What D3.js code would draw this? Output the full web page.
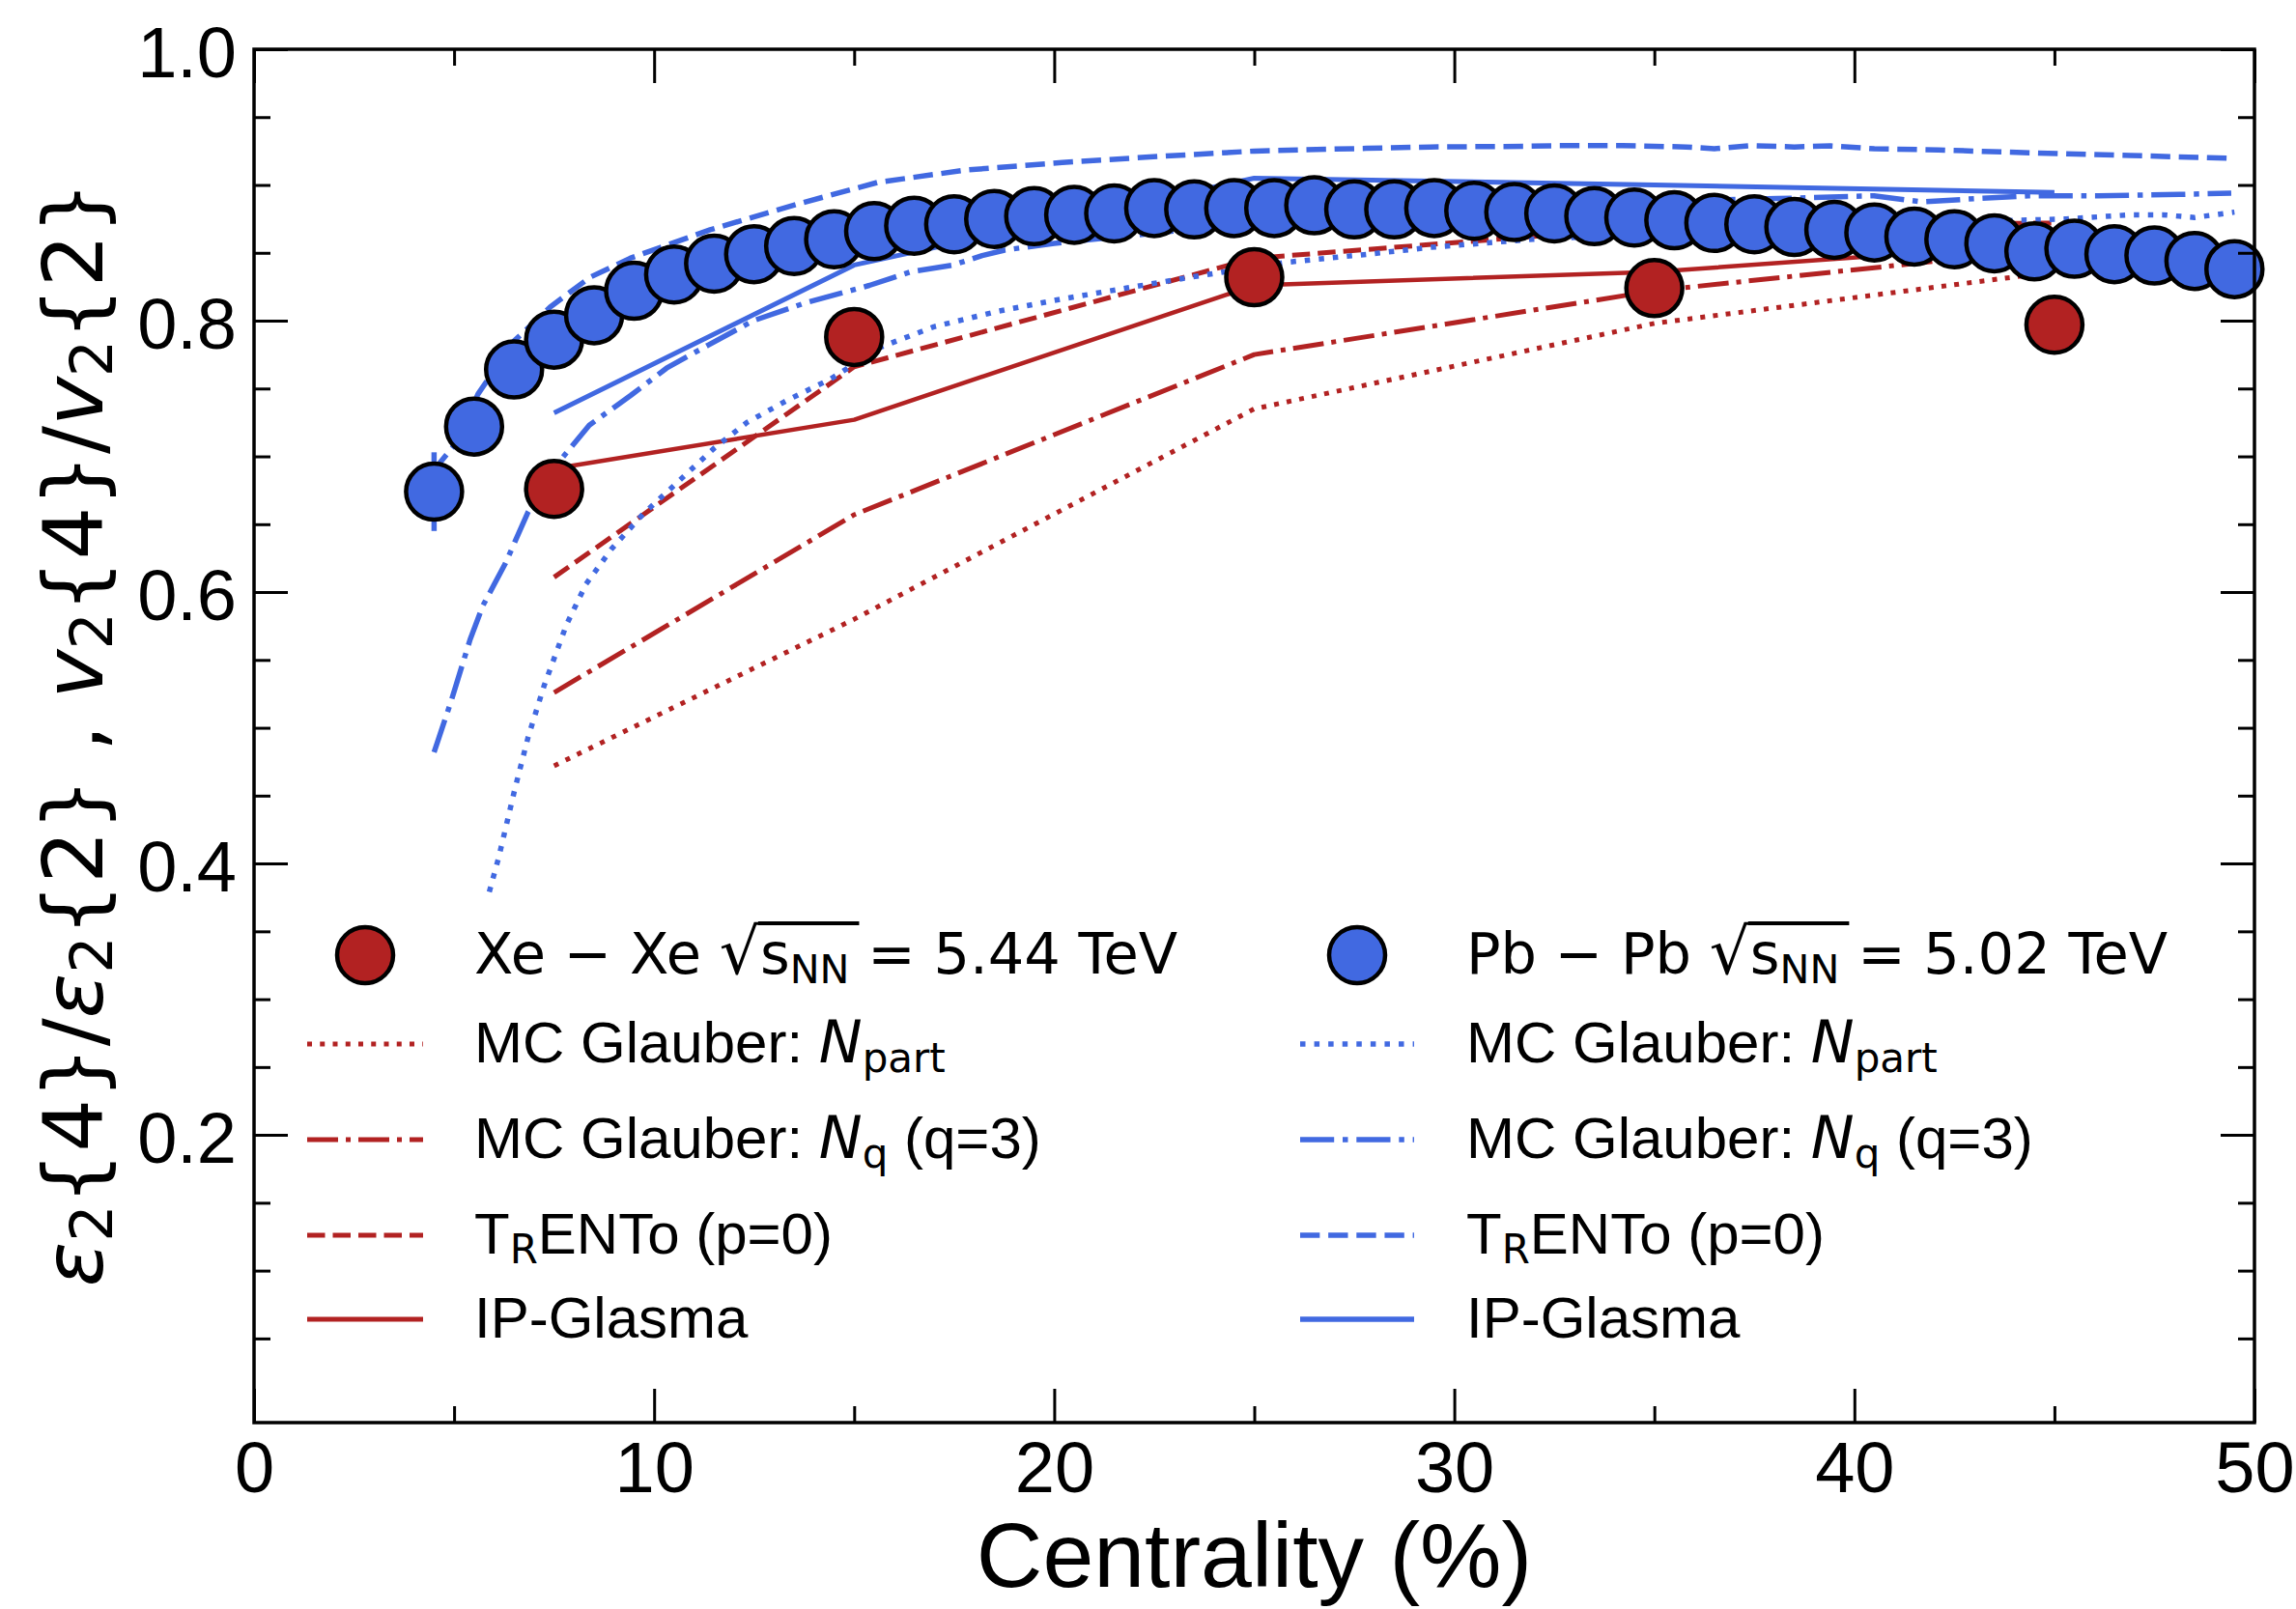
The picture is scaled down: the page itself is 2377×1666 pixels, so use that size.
<!DOCTYPE html>
<html>
<head>
<meta charset="utf-8">
<script src="https://cdn.jsdelivr.net/npm/d3@7"></script>
<style>
  html, body { margin: 0; padding: 0; background: #ffffff; }
  svg { display: block; }
</style>
</head>
<body>
<svg id="chart" width="2377" height="1666"></svg>
<script>
// ---------------- data ----------------
// Pb-Pb measurement, v2{4}/v2{2}
const pbCentrality = [4.5, 5.5, 6.5, 7.5, 8.5, 9.5, 10.5, 11.5, 12.5, 13.5, 14.5, 15.5,
  16.5, 17.5, 18.5, 19.5, 20.5, 21.5, 22.5, 23.5, 24.5, 25.5, 26.5, 27.5, 28.5, 29.5,
  30.5, 31.5, 32.5, 33.5, 34.5, 35.5, 36.5, 37.5, 38.5, 39.5, 40.5, 41.5, 42.5, 43.5,
  44.5, 45.5, 46.5, 47.5, 48.5, 49.5];
const pbRatio = [0.674, 0.722, 0.764, 0.786, 0.804, 0.822, 0.834, 0.842, 0.849, 0.855,
  0.860, 0.866, 0.870, 0.871, 0.875, 0.877, 0.878, 0.879, 0.883, 0.882, 0.883, 0.883,
  0.885, 0.882, 0.882, 0.883, 0.881, 0.880, 0.879, 0.877, 0.876, 0.874, 0.872, 0.871,
  0.869, 0.867, 0.865, 0.862, 0.860, 0.857, 0.851, 0.853, 0.849, 0.848, 0.844, 0.838];
const pbError = [0.029, 0.016, 0.012, 0.010, 0.009, 0.008, 0.007, 0.007, 0.006, 0.006,
  0.006, 0.006, 0.006, 0.006, 0.006, 0.006, 0.006, 0.006, 0.006, 0.006, 0.006, 0.006,
  0.006, 0.006, 0.006, 0.006, 0.006, 0.006, 0.006, 0.006, 0.006, 0.006, 0.006, 0.007,
  0.007, 0.007, 0.007, 0.007, 0.008, 0.008, 0.008, 0.009, 0.009, 0.010, 0.010, 0.011];

// Xe-Xe measurement
const xeCentrality = [7.5, 15, 25, 35, 45];
const xeRatio = [0.676, 0.788, 0.832, 0.824, 0.797];

// Xe-Xe model curves (eps2{4}/eps2{2})
const xeModelCentrality = [7.5, 15, 25, 35, 45];
const xeGlauberNpart = [0.472, 0.580, 0.735, 0.798, 0.836];
const xeGlauberNq    = [0.526, 0.657, 0.775, 0.822, 0.853];
const xeTrento       = [0.611, 0.766, 0.846, 0.869, 0.872];
const xeIPGlasma     = [0.691, 0.727, 0.826, 0.836, 0.857];

// Pb-Pb model curves
const pbGlauberNpartX = [5.88, 6.12, 6.52, 6.85, 7.25, 7.81, 8.3, 8.94, 9.74, 10.55, 11.5,
  12.32, 13.37, 14.41, 15.0, 15.62, 16.99, 18.6, 20.2, 21.8, 23.4, 25.8, 27.85, 29.4,
  31.96, 35, 40, 44.1, 45.3, 46.9, 47.7, 48.5, 49.5];
const pbGlauberNpartY = [0.379, 0.405, 0.455, 0.493, 0.531, 0.576, 0.606, 0.632, 0.658,
  0.680, 0.706, 0.725, 0.742, 0.757, 0.768, 0.780, 0.7955, 0.807, 0.816, 0.824, 0.832,
  0.843, 0.849, 0.854, 0.860, 0.864, 0.870, 0.874, 0.875, 0.878, 0.878, 0.876, 0.880];

const pbGlauberNqX = [4.5, 4.92, 5.4, 5.72, 6.28, 6.85, 7.65, 8.38, 9.42, 10.31, 11.35,
  12.48, 13.77, 15.38, 16.42, 17.47, 18.2, 18.76, 20, 25, 30, 35, 38.07, 40.49, 41.7,
  43.06, 44.35, 46.1, 48.13, 49.42];
const pbGlauberNqY = [0.482, 0.519, 0.565, 0.590, 0.621, 0.659, 0.697, 0.723, 0.745,
  0.765, 0.782, 0.800, 0.813, 0.826, 0.836, 0.841, 0.848, 0.852, 0.857, 0.872, 0.882,
  0.888, 0.890, 0.892, 0.8875, 0.890, 0.892, 0.892, 0.893, 0.894];

const pbTrentoX = [4.5, 5.0, 5.6, 6.5, 7.4, 8.4, 9.4, 11.4, 13.6, 15.6, 17.8, 20.2, 22.6,
  25.0, 27.8, 29.4, 31.8, 32.6, 34.2, 35.8, 36.5, 37.4, 38.5, 39.4, 40.5, 42.1, 44.5,
  46.9, 49.5];
const pbTrentoY = [0.690, 0.708, 0.746, 0.785, 0.810, 0.832, 0.846, 0.867, 0.886, 0.902,
  0.911, 0.9165, 0.921, 0.925, 0.927, 0.928, 0.9285, 0.929, 0.929, 0.928, 0.9267, 0.929,
  0.928, 0.9288, 0.9267, 0.9258, 0.9236, 0.9217, 0.9196];

const pbIPGlasmaX = [7.5, 15, 25, 35, 45];
const pbIPGlasmaY = [0.732, 0.841, 0.905, 0.900, 0.8945];

// axis ticks
const xMajorTicks = [0, 10, 20, 30, 40, 50];
const xMinorTicks = [5, 15, 25, 35, 45];
const yMajorTicks = [0.2, 0.4, 0.6, 0.8, 1.0];
const yMinorTicks = [0.05, 0.1, 0.15, 0.25, 0.3, 0.35, 0.45, 0.5, 0.55, 0.65, 0.7, 0.75,
  0.85, 0.9, 0.95];

// ---------------- setup ----------------
const RED = "#b22222";
const BLUE = "#4169e1";
const sansFont = "'Liberation Sans', Arial, Helvetica, sans-serif";
const mathFont = "'DejaVu Sans', sans-serif";

const svg = d3.select("#chart");
const plot = { left: 263, right: 2334, top: 51, bottom: 1473 };

const x = d3.scaleLinear().domain([0, 50]).range([plot.left, plot.right]);
const y = d3.scaleLinear().domain([-0.012, 1.0]).range([plot.bottom, plot.top]);

svg.append("rect").attr("width", 2377).attr("height", 1666).attr("fill", "#fff");

svg.append("defs").append("clipPath").attr("id", "plot-clip")
  .append("rect")
  .attr("x", plot.left).attr("y", plot.top)
  .attr("width", plot.right - plot.left).attr("height", plot.bottom - plot.top);

// line styles (matplotlib-like dash patterns scaled by width)
const styles = {
  dotted:  lw => [1, 1.65].map(v => v * lw).join(","),
  dashed:  lw => [3.7, 1.6].map(v => v * lw).join(","),
  dashdot: lw => [6.4, 1.6, 1, 1.6].map(v => v * lw).join(","),
  solid:   lw => null
};

const lineGen = d3.line().x(d => x(d[0])).y(d => y(d[1]));

const curves = [
  { xs: xeModelCentrality, ys: xeGlauberNpart, color: RED, style: "dotted", lw: 5 },
  { xs: xeModelCentrality, ys: xeGlauberNq, color: RED, style: "dashdot", lw: 5 },
  { xs: xeModelCentrality, ys: xeTrento, color: RED, style: "dashed", lw: 5 },
  { xs: xeModelCentrality, ys: xeIPGlasma, color: RED, style: "solid", lw: 4.5 },
  { xs: pbGlauberNpartX, ys: pbGlauberNpartY, color: BLUE, style: "dotted", lw: 5.5 },
  { xs: pbGlauberNqX, ys: pbGlauberNqY, color: BLUE, style: "dashdot", lw: 5.5 },
  { xs: pbTrentoX, ys: pbTrentoY, color: BLUE, style: "dashed", lw: 5.5 },
  { xs: pbIPGlasmaX, ys: pbIPGlasmaY, color: BLUE, style: "solid", lw: 5 }
];

const curveLayer = svg.append("g").attr("clip-path", "url(#plot-clip)");
curves.forEach(c => {
  curveLayer.append("path")
    .datum(c.xs.map((v, i) => [v, c.ys[i]]))
    .attr("d", lineGen)
    .attr("fill", "none")
    .attr("stroke", c.color)
    .attr("stroke-width", c.lw)
    .attr("stroke-dasharray", styles[c.style](c.lw))
    .attr("stroke-linejoin", "round");
});

// Pb-Pb error bars and markers
const markerR = 29;
const markerStroke = 4.5;
const pbPoints = pbCentrality.map((c, i) => ({ c, v: pbRatio[i], e: pbError[i] }));
const dataLayer = svg.append("g");
dataLayer.selectAll("line.err").data(pbPoints).join("line")
  .attr("class", "err")
  .attr("x1", d => x(d.c)).attr("x2", d => x(d.c))
  .attr("y1", d => y(d.v - d.e)).attr("y2", d => y(d.v + d.e))
  .attr("stroke", BLUE).attr("stroke-width", 5.5);
dataLayer.selectAll("circle.pb").data(pbPoints).join("circle")
  .attr("class", "pb")
  .attr("cx", d => x(d.c)).attr("cy", d => y(d.v)).attr("r", markerR)
  .attr("fill", BLUE).attr("stroke", "#000").attr("stroke-width", markerStroke);

// Xe-Xe markers
const xePoints = xeCentrality.map((c, i) => ({ c, v: xeRatio[i] }));
dataLayer.selectAll("circle.xe").data(xePoints).join("circle")
  .attr("class", "xe")
  .attr("cx", d => x(d.c)).attr("cy", d => y(d.v)).attr("r", markerR)
  .attr("fill", RED).attr("stroke", "#000").attr("stroke-width", markerStroke);

// ---------------- axes ----------------
function styleAxis(g) {
  g.select(".domain").remove();
  g.selectAll(".tick line").attr("stroke", "#000").attr("stroke-width", 3);
  g.selectAll(".tick text")
    .attr("font-family", sansFont).attr("font-size", 74).attr("fill", "#000");
}
const axes = svg.append("g");
axes.append("g").attr("transform", `translate(0,${plot.bottom})`)
  .call(d3.axisBottom(x).tickValues(xMajorTicks).tickSize(-35).tickPadding(19)
    .tickFormat(d3.format("d")))
  .call(styleAxis);
axes.append("g").attr("transform", `translate(0,${plot.bottom})`)
  .call(d3.axisBottom(x).tickValues(xMinorTicks).tickSize(-17).tickFormat(""))
  .call(styleAxis);
axes.append("g").attr("transform", `translate(0,${plot.top})`)
  .call(d3.axisTop(x).tickValues(xMajorTicks).tickSize(-35).tickFormat(""))
  .call(styleAxis);
axes.append("g").attr("transform", `translate(0,${plot.top})`)
  .call(d3.axisTop(x).tickValues(xMinorTicks).tickSize(-17).tickFormat(""))
  .call(styleAxis);
axes.append("g").attr("transform", `translate(${plot.left},0)`)
  .call(d3.axisLeft(y).tickValues(yMajorTicks).tickSize(-35).tickPadding(18)
    .tickFormat(d3.format(".1f")))
  .call(styleAxis)
  .call(g => g.selectAll(".tick text").attr("dy", "0.39em"));
axes.append("g").attr("transform", `translate(${plot.left},0)`)
  .call(d3.axisLeft(y).tickValues(yMinorTicks).tickSize(-17).tickFormat(""))
  .call(styleAxis);
axes.append("g").attr("transform", `translate(${plot.right},0)`)
  .call(d3.axisRight(y).tickValues(yMajorTicks).tickSize(-35).tickFormat(""))
  .call(styleAxis);
axes.append("g").attr("transform", `translate(${plot.right},0)`)
  .call(d3.axisRight(y).tickValues(yMinorTicks).tickSize(-17).tickFormat(""))
  .call(styleAxis);

// frame
svg.append("rect")
  .attr("x", plot.left).attr("y", plot.top)
  .attr("width", plot.right - plot.left).attr("height", plot.bottom - plot.top)
  .attr("fill", "none").attr("stroke", "#000").attr("stroke-width", 3.5);

// ---------------- rich text helper ----------------
// segments: {t, math, italic, sub, size}
function richText(parent, segs, baseSize, subShift) {
  const text = parent.append("text").attr("fill", "#000").attr("font-size", baseSize);
  let shifted = 0;
  segs.forEach(s => {
    const ts = text.append("tspan")
      .attr("font-family", s.math ? mathFont : sansFont)
      .attr("font-style", s.italic ? "italic" : "normal")
      .text(s.t);
    const want = s.sub ? subShift : 0;
    if (want !== shifted) { ts.attr("dy", want - shifted); shifted = want; }
    if (s.sub) ts.attr("font-size", baseSize * 0.7);
    if (s.size) ts.attr("font-size", s.size);
  });
  return text;
}

// axis titles
svg.append("text")
  .attr("x", (plot.left + plot.right) / 2).attr("y", 1643)
  .attr("text-anchor", "middle")
  .attr("font-family", sansFont).attr("font-size", 95).attr("fill", "#000")
  .text("Centrality (%)");

const yTitle = richText(svg, [
  { t: "ε", math: true, italic: true }, { t: "2", math: true, sub: true },
  { t: "{4}/", math: true },
  { t: "ε", math: true, italic: true }, { t: "2", math: true, sub: true },
  { t: "{2} , ", math: true },
  { t: "v", math: true, italic: true }, { t: "2", math: true, sub: true },
  { t: "{4}/", math: true },
  { t: "v", math: true, italic: true }, { t: "2", math: true, sub: true },
  { t: "{2}", math: true }
], 86, 10);
yTitle.attr("text-anchor", "middle").attr("transform", "translate(106,760) rotate(-90)");

// ---------------- legend ----------------
const legendRows = [989, 1081, 1180, 1279, 1366];
const legendCols = [
  { lineX0: 318, lineX1: 438, markerX: 378, textX: 491, color: RED, lw: 5,
    system: "Xe − Xe ", energy: " = 5.44 TeV" },
  { lineX0: 1346, lineX1: 1464, markerX: 1405, textX: 1518, color: BLUE, lw: 5.5,
    system: "Pb − Pb ", energy: " = 5.02 TeV" }
];
const modelEntries = [
  { style: "dotted", segs: [{ t: "MC Glauber: " }, { t: "N", math: true, italic: true },
      { t: "part", math: true, sub: true }] },
  { style: "dashdot", segs: [{ t: "MC Glauber: " }, { t: "N", math: true, italic: true },
      { t: "q", math: true, sub: true }, { t: " (q=3)" }] },
  { style: "dashed", segs: [{ t: "T" }, { t: "R", math: true, sub: true }, { t: "ENTo (p=0)" }] },
  { style: "solid", segs: [{ t: "IP-Glasma" }] }
];

const legend = svg.append("g");
legendCols.forEach(col => {
  // data entry
  legend.append("circle")
    .attr("cx", col.markerX).attr("cy", legendRows[0]).attr("r", markerR)
    .attr("fill", col.color).attr("stroke", "#000").attr("stroke-width", markerStroke);
  const head = richText(legend, [
    { t: col.system, math: true },
    { t: "√", math: true, size: 66 },
    { t: "s", math: true },
    { t: "NN", math: true, sub: true },
    { t: col.energy, math: true }
  ], 59, 10);
  head.attr("x", col.textX).attr("y", legendRows[0] + 19);
  const node = head.node();
  const iRoot = col.system.length;
  const rootEnd = node.getEndPositionOfChar(iRoot).x;
  const nnEnd = node.getEndPositionOfChar(iRoot + 3).x;
  legend.append("line")
    .attr("x1", rootEnd - 2).attr("x2", nnEnd + 10)
    .attr("y1", legendRows[0] + 19 - 52).attr("y2", legendRows[0] + 19 - 52)
    .attr("stroke", "#000").attr("stroke-width", 4);

  modelEntries.forEach((m, k) => {
    const ry = legendRows[k + 1];
    legend.append("line")
      .attr("x1", col.lineX0).attr("x2", col.lineX1)
      .attr("y1", ry).attr("y2", ry)
      .attr("stroke", col.color).attr("stroke-width", col.lw)
      .attr("stroke-dasharray", styles[m.style](col.lw));
    richText(legend, m.segs, 60, 10).attr("x", col.textX).attr("y", ry + 19);
  });
});
</script>
</body>
</html>
